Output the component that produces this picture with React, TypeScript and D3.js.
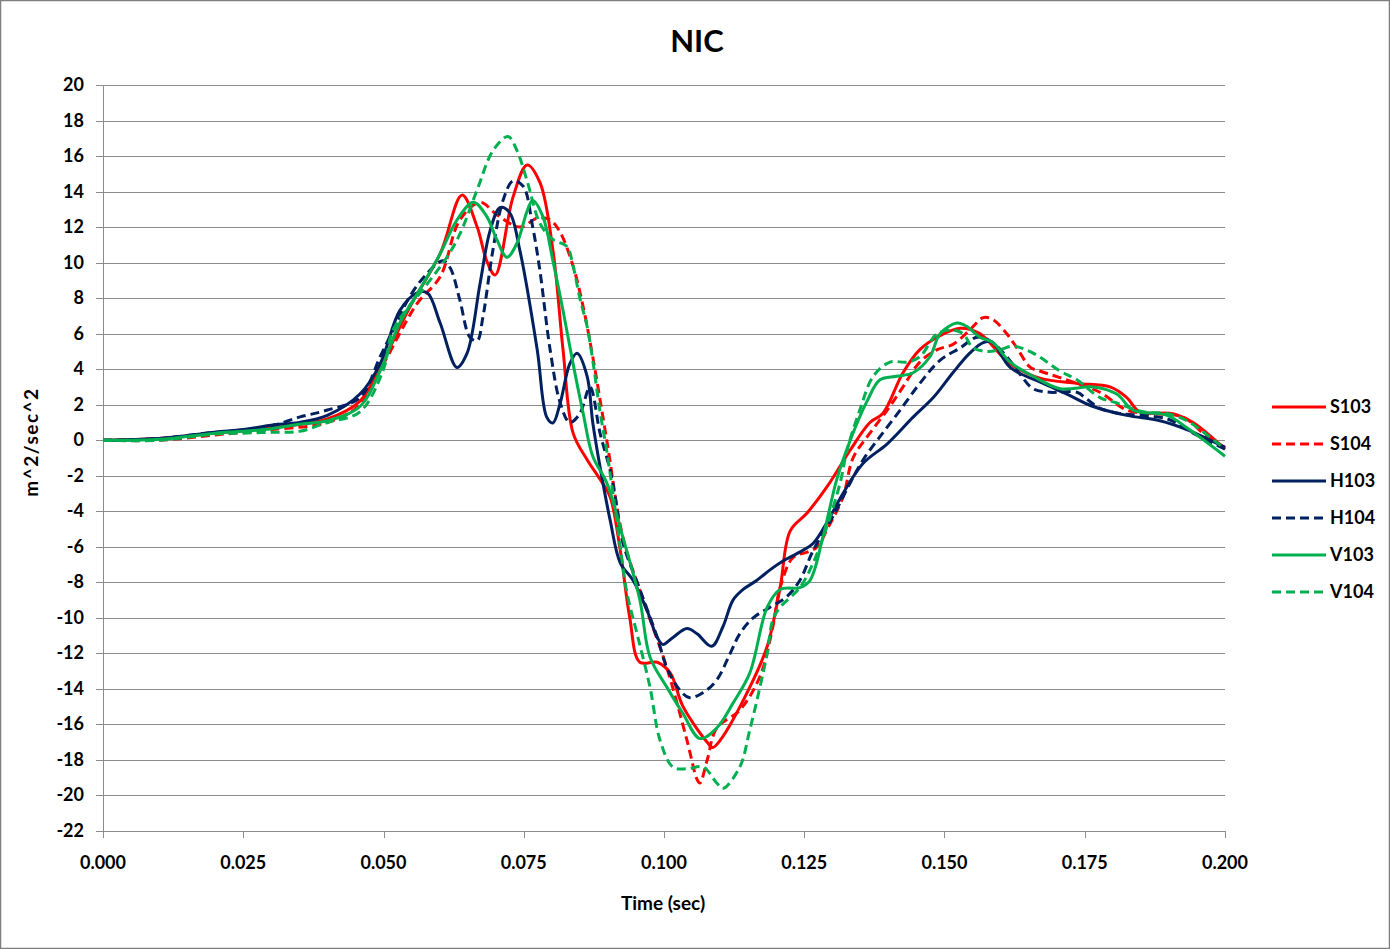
import React from "react";
import * as d3 from "d3";

const title = "NIC";
const xTitle = "Time (sec)";
const yTitle = "m^2/sec^2";
const xTicks = [0, 0.025, 0.05, 0.075, 0.1, 0.125, 0.15, 0.175, 0.2];
const yTicks = d3.range(-22, 21, 2);

type P = [number, number];

const S103: P[] = [
  [0, 0], [0.01, 0.1], [0.02, 0.4], [0.03, 0.7], [0.04, 1.2], [0.0458, 2.2], [0.05, 4.5], [0.0547, 7.5],
  [0.0601, 10.5], [0.064, 13.8], [0.0667, 12.0], [0.0684, 10.1], [0.0699, 9.3], [0.0731, 13.7], [0.0756, 15.5],
  [0.0779, 14.5], [0.0802, 10.7], [0.082, 5.1], [0.0838, 0.4], [0.0863, -1.1], [0.0886, -2.2], [0.0904, -3.2],
  [0.0922, -6.2], [0.0939, -10.0], [0.0957, -12.5], [0.0988, -12.5], [0.1011, -13.1], [0.1034, -15.0],
  [0.1077, -17.0], [0.1087, -17.3], [0.11, -16.9], [0.1153, -13.9], [0.1184, -11.6], [0.1207, -8.3],
  [0.1225, -5.1], [0.1255, -4.1], [0.1291, -2.6], [0.1332, -0.55], [0.1367, 1.0], [0.139, 1.5], [0.1426, 3.8],
  [0.1456, 5.1], [0.1487, 5.8], [0.1528, 6.3], [0.1563, 6.0], [0.1617, 4.3], [0.167, 3.5], [0.1736, 3.2],
  [0.1795, 3.0], [0.1825, 2.4], [0.1848, 1.6], [0.1907, 1.5], [0.1943, 1.0], [0.2, -0.5],
];

const S104: P[] = [
  [0, 0], [0.01, 0.0], [0.02, 0.3], [0.03, 0.6], [0.04, 1.0], [0.0458, 2.0], [0.05, 4.3], [0.056, 7.7],
  [0.0601, 9.2], [0.0636, 12.4], [0.0672, 13.4], [0.0702, 12.7], [0.0743, 12.0], [0.0774, 12.5], [0.0797, 12.4],
  [0.0815, 11.7], [0.0838, 9.8], [0.0856, 7.5], [0.0873, 4.7], [0.0898, 0], [0.0927, -5.5], [0.0963, -9.0],
  [0.1005, -12.8], [0.1041, -16.9], [0.1059, -19.1], [0.1064, -19.3], [0.1077, -18.0], [0.1094, -16.2],
  [0.1135, -15.2], [0.1171, -13.3], [0.1194, -10.5], [0.1207, -8.3], [0.123, -6.6], [0.1255, -6.3],
  [0.1273, -6.0], [0.1291, -5.0], [0.1319, -3.2], [0.1337, -1.0], [0.1367, 0.4], [0.1398, 1.7], [0.1426, 3.0],
  [0.1456, 4.4], [0.1487, 5.1], [0.1515, 5.4], [0.1545, 6.2], [0.1569, 6.9], [0.1586, 6.8], [0.1611, 6.0],
  [0.1629, 5.2], [0.1653, 4.1], [0.167, 3.9], [0.1736, 3.2], [0.1777, 2.7], [0.1825, 1.7], [0.1866, 1.5],
  [0.1925, 1.3], [0.1968, 0.2], [0.2, -0.4],
];

const H103: P[] = [
  [0, 0], [0.01, 0.1], [0.02, 0.45], [0.025, 0.6], [0.03, 0.85], [0.035, 1.0], [0.04, 1.4], [0.0458, 2.6],
  [0.0494, 4.3], [0.0529, 7.3], [0.056, 8.3], [0.0578, 8.3], [0.0601, 6.6], [0.0631, 4.1], [0.0649, 4.9],
  [0.0672, 8.8], [0.069, 11.8], [0.0708, 13.1], [0.0725, 12.8], [0.0743, 10.7], [0.0774, 5.1], [0.0791, 1.3],
  [0.0802, 0.97], [0.0815, 2.1], [0.0832, 4.3], [0.0845, 4.9], [0.0863, 3.6], [0.0873, 1.0], [0.0886, -1.5],
  [0.0904, -4.5], [0.0922, -6.9], [0.0945, -7.9], [0.097, -9.6], [0.0988, -11.1], [0.0998, -11.5],
  [0.1016, -11.1], [0.1041, -10.6], [0.1059, -10.9], [0.1085, -11.6], [0.1105, -10.5], [0.1123, -9.0],
  [0.1141, -8.4], [0.1165, -7.9], [0.1189, -7.3], [0.1212, -6.8], [0.1242, -6.3], [0.1266, -5.8],
  [0.1291, -4.6], [0.1319, -3.0], [0.1355, -1.3], [0.1398, -0.2], [0.1444, 1.3], [0.148, 2.4], [0.1515, 3.8],
  [0.1545, 4.9], [0.1569, 5.5], [0.1586, 5.5], [0.1617, 4.1], [0.1676, 3.2], [0.1718, 2.6], [0.1765, 1.9],
  [0.1825, 1.4], [0.1884, 1.1], [0.1932, 0.6], [0.2, -0.4],
];

const H104: P[] = [
  [0, 0], [0.01, 0.1], [0.02, 0.45], [0.025, 0.55], [0.03, 0.8], [0.035, 1.3], [0.04, 1.7], [0.0458, 2.4],
  [0.0494, 4.7], [0.0517, 6.2], [0.0547, 8.1], [0.0578, 9.4], [0.0606, 10.1], [0.0619, 9.7], [0.0636, 7.9],
  [0.0654, 5.8], [0.0667, 5.6], [0.0677, 6.9], [0.0695, 10.7], [0.0713, 13.5], [0.0731, 14.6], [0.0749, 14.3],
  [0.0766, 12.0], [0.0779, 9.5], [0.0797, 5.1], [0.0815, 2.1], [0.0832, 1.0], [0.085, 1.5], [0.0868, 3.0],
  [0.0886, 0.4], [0.0904, -1.7], [0.0913, -3.2], [0.0927, -5.8], [0.0957, -8.4], [0.0988, -11.1],
  [0.1005, -12.8], [0.1029, -14.1], [0.1046, -14.5], [0.107, -14.2], [0.1094, -13.5], [0.1118, -12.0],
  [0.1135, -10.9], [0.1159, -10.0], [0.1189, -9.4], [0.1219, -8.8], [0.1242, -7.9], [0.1266, -6.2],
  [0.1301, -4.3], [0.1332, -2.4], [0.1355, -1.1], [0.1385, 0.2], [0.1421, 1.7], [0.1456, 3.2], [0.1492, 4.5],
  [0.1528, 5.2], [0.1558, 5.8], [0.1581, 5.6], [0.1611, 4.7], [0.1635, 3.7], [0.1658, 2.9], [0.1688, 2.7],
  [0.1736, 2.7], [0.1754, 2.3], [0.1777, 1.8], [0.1813, 1.5], [0.1897, 1.2], [0.1943, 0.4], [0.2, -0.5],
];

const V103: P[] = [
  [0, 0], [0.01, 0.05], [0.02, 0.4], [0.025, 0.5], [0.03, 0.65], [0.035, 0.9], [0.04, 1.1], [0.0458, 1.9],
  [0.0494, 3.9], [0.0529, 6.6], [0.0565, 8.5], [0.0601, 10.5], [0.0631, 12.4], [0.066, 13.4], [0.0684, 12.6],
  [0.0702, 11.3], [0.072, 10.3], [0.0738, 11.1], [0.0756, 12.9], [0.0766, 13.5], [0.0784, 12.6], [0.0802, 10.1],
  [0.082, 7.3], [0.0838, 4.3], [0.0856, 1.5], [0.0873, -0.9], [0.0898, -2.4], [0.0927, -5.5], [0.0957, -9.0],
  [0.0975, -12.2], [0.1005, -13.9], [0.1034, -15.4], [0.1064, -16.8], [0.1094, -16.2], [0.1123, -14.8],
  [0.1153, -13.1], [0.1184, -9.4], [0.1207, -8.4], [0.1242, -8.3], [0.126, -7.9], [0.1283, -5.5],
  [0.1308, -2.2], [0.1332, 0], [0.1362, 2.2], [0.1385, 3.4], [0.1415, 3.6], [0.1444, 3.8], [0.1474, 4.7],
  [0.1492, 6.0], [0.1522, 6.6], [0.154, 6.4], [0.1563, 5.8], [0.1586, 5.5], [0.1617, 4.4], [0.1658, 3.6],
  [0.1706, 2.9], [0.1765, 3.0], [0.1807, 2.6], [0.1836, 1.7], [0.1897, 1.4], [0.1932, 0.7], [0.2, -0.9],
];

const V104: P[] = [
  [0, 0], [0.01, 0.0], [0.02, 0.35], [0.025, 0.4], [0.03, 0.45], [0.035, 0.5], [0.04, 1.0], [0.0458, 1.6],
  [0.05, 4.0], [0.0517, 6.2], [0.0578, 8.8], [0.0613, 10.3], [0.0636, 11.6], [0.0667, 14.1], [0.0695, 16.3],
  [0.0722, 17.1], [0.0738, 16.3], [0.0756, 14.6], [0.0779, 12.2], [0.0802, 11.3], [0.0827, 10.9],
  [0.0838, 9.8], [0.085, 8.0], [0.0863, 6.4], [0.0873, 4.5], [0.0886, 1.6], [0.0898, -0.6], [0.0909, -3.0],
  [0.0922, -6.0], [0.0934, -8.6], [0.0952, -10.9], [0.0975, -13.9], [0.0993, -16.9], [0.1016, -18.4],
  [0.1041, -18.5], [0.107, -18.4], [0.1094, -19.3], [0.1105, -19.6], [0.1135, -18.4], [0.1153, -16.3],
  [0.1171, -13.9], [0.1184, -12.0], [0.1194, -10.1], [0.1207, -9.4], [0.1242, -8.3], [0.1266, -6.9],
  [0.1291, -4.8], [0.1314, -2.4], [0.1326, -0.6], [0.1349, 1.7], [0.1373, 3.6], [0.1403, 4.4], [0.1433, 4.4],
  [0.1456, 4.7], [0.1487, 6.0], [0.1515, 6.2], [0.1533, 6.0], [0.1551, 5.2], [0.1576, 5.0], [0.1599, 5.1],
  [0.1622, 5.3], [0.1658, 4.9], [0.1706, 3.9], [0.1736, 3.4], [0.1777, 2.4], [0.1807, 2.1], [0.1854, 1.6],
  [0.1897, 1.5], [0.1932, 1.1], [0.2, -0.5],
];

const seriesNames = ["S103", "S104", "H103", "H104", "V103", "V104"];
const seriesData = [S103, S104, H103, H104, V103, V104];
const seriesColors = ["#FF0000", "#FF0000", "#002060", "#002060", "#00B050", "#00B050"];
const seriesDashed = [false, true, false, true, false, true];

const W = 1390;
const H = 949;
const font = "Lato, 'Open Sans', sans-serif";

export default function App() {
  const x = d3.scaleLinear().domain([0, 0.2]).range([103, 1225]);
  const y = d3.scaleLinear().domain([-22, 20]).range([831, 85]);
  const line = d3
    .line<P>()
    .x((d) => x(d[0]))
    .y((d) => y(d[1]))
    .curve(d3.curveCatmullRom.alpha(0.5));

  return (
    <svg
      width={W}
      height={H}
      style={{ position: "absolute", left: 0, top: 0, background: "#fff" }}
      fontFamily={font}
    >
      <rect x={0.5} y={0.5} width={W - 1} height={H - 1} fill="#fff" stroke="#7f7f7f" strokeWidth={1.5} />
      <text x={697} y={52} textAnchor="middle" fontSize={31} fontWeight="bold" fill="#000">
        {title}
      </text>
      {yTicks.map((v) => (
        <g key={"y" + v}>
          <line x1={96} x2={1225} y1={Math.round(y(v)) + 0.5} y2={Math.round(y(v)) + 0.5} stroke="#8c8c8c" strokeWidth={1} />
          <text x={84} y={y(v) + 6} textAnchor="end" fontSize={18} fontWeight="bold" fill="#000">
            {v}
          </text>
        </g>
      ))}
      <line x1={103.5} x2={103.5} y1={85} y2={831} stroke="#8c8c8c" strokeWidth={1} />
      {xTicks.map((t) => (
        <g key={"x" + t}>
          <line x1={Math.round(x(t)) + 0.5} x2={Math.round(x(t)) + 0.5} y1={831} y2={838} stroke="#8c8c8c" strokeWidth={1} />
          <text x={x(t)} y={869} textAnchor="middle" fontSize={18} fontWeight="bold" fill="#000">
            {t.toFixed(3)}
          </text>
        </g>
      ))}
      <text x={663} y={910} textAnchor="middle" fontSize={19} fontWeight="bold" fill="#000">
        {xTitle}
      </text>
      <text
        transform={`translate(38,442) rotate(-90)`}
        textAnchor="middle"
        fontSize={19}
        fontWeight="bold"
        fill="#000"
        letterSpacing={1.5}
      >
        {yTitle}
      </text>
      <g>
        {seriesData.map((d, i) => (
          <path
            key={seriesNames[i]}
            d={line(d) || ""}
            fill="none"
            stroke={seriesColors[i]}
            strokeWidth={3}
            strokeDasharray={seriesDashed[i] ? "9,5" : undefined}
            strokeLinejoin="round"
          />
        ))}
      </g>
      {seriesNames.map((n, i) => {
        const ly = 407 + i * 37;
        return (
          <g key={"l" + n}>
            <line
              x1={1272}
              x2={1326}
              y1={ly}
              y2={ly}
              stroke={seriesColors[i]}
              strokeWidth={3}
              strokeDasharray={seriesDashed[i] ? "9,5" : undefined}
            />
            <text x={1330} y={ly + 6} fontSize={18} fontWeight="bold" fill="#000">
              {n}
            </text>
          </g>
        );
      })}
    </svg>
  );
}
